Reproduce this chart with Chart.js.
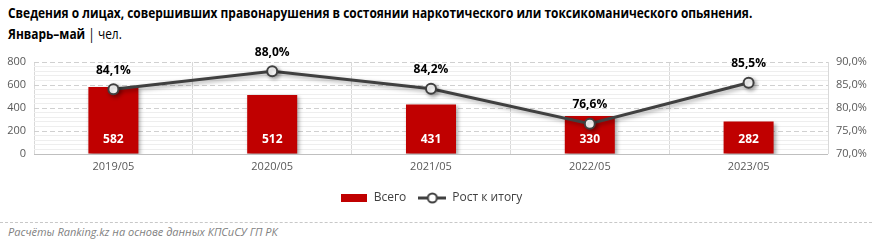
<!DOCTYPE html>
<html>
<head>
<meta charset="utf-8">
<script src="https://cdn.jsdelivr.net/npm/chart.js@4/dist/chart.umd.min.js"></script>
<style>
  html, body { margin: 0; padding: 0; background: #fff; }
  body { width: 872px; height: 242px; position: relative; overflow: hidden; font-family: "Open Sans", sans-serif; }
  .title { position: absolute; left: 8px; white-space: nowrap; font-size: 14px; color: #000; transform-origin: left center; }
  #t1 { top: 3px; font-weight: bold; }
  #t2 { top: 24px; }
  #t2 b { font-weight: bold; }
  #wrap { position: absolute; left: 0; top: 40px; width: 872px; height: 174px; }
  .sep { position: absolute; left: 0; top: 222px; width: 872px; border-top: 1px dashed #c8c8c8; }
  .src { position: absolute; left: 8px; top: 224px; font-size: 11px; font-style: italic; color: #7f7f7f; }
</style>
</head>
<body>
<div class="title" id="t1">Сведения о лицах, совершивших правонарушения в состоянии наркотического или токсикоманического опьянения.</div>
<div class="title" id="t2"><b>Январь–май</b> | чел.</div>
<div id="wrap"><canvas id="chart"></canvas></div>
<div class="sep"></div>
<div class="src">Расчёты Ranking.kz на основе данных КПСиСУ ГП РК</div>
<script>
// Data
const categories = ['2019/05', '2020/05', '2021/05', '2022/05', '2023/05'];
const totals = [582, 512, 431, 330, 282];
const shares = [84.1, 88.0, 84.2, 76.6, 85.5];
const seriesNames = ['Всего', 'Рост к итогу'];

// squeeze title to the reference width
const t1 = document.getElementById('t1');
const sc = 744 / t1.offsetWidth;
t1.style.transform = 'scaleX(' + sc + ')';
document.getElementById('t2').style.transform = 'scaleX(' + sc + ')';

const fmtPct = v => v.toFixed(1).replace('.', ',') + '%';

// legend icons
function barIcon() {
  const c = document.createElement('canvas');
  c.width = 26; c.height = 8;
  const g = c.getContext('2d');
  g.fillStyle = '#C00000';
  g.fillRect(0, 0, 26, 8);
  return c;
}
function lineIcon() {
  const c = document.createElement('canvas');
  c.width = 28; c.height = 12;
  const g = c.getContext('2d');
  g.strokeStyle = '#404040';
  g.lineWidth = 3;
  g.beginPath(); g.moveTo(0, 6); g.lineTo(28, 6); g.stroke();
  g.fillStyle = '#fff';
  g.lineWidth = 2;
  g.beginPath(); g.arc(14, 6, 4.5, 0, Math.PI * 2); g.fill(); g.stroke();
  return c;
}

const shadowPlugin = {
  id: 'shadow',
  beforeDatasetDraw(chart) {
    const ctx = chart.ctx;
    ctx.save();
    ctx.shadowColor = 'rgba(0,0,0,0.35)';
    ctx.shadowBlur = 4;
    ctx.shadowOffsetX = 2;
    ctx.shadowOffsetY = 2;
  },
  afterDatasetDraw(chart) {
    chart.ctx.restore();
  }
};

const labelPlugin = {
  id: 'labels',
  afterDatasetsDraw(chart) {
    const ctx = chart.ctx;
    ctx.save();
    ctx.textAlign = 'center';
    ctx.textBaseline = 'middle';
    const barMeta = chart.getDatasetMeta(0);
    ctx.font = 'bold 12px "Open Sans"';
    ctx.fillStyle = '#fff';
    barMeta.data.forEach((el, i) => {
      ctx.fillText(totals[i], el.x, el.base - 14);
    });
    const lineMeta = chart.getDatasetMeta(1);
    ctx.fillStyle = '#000';
    lineMeta.data.forEach((el, i) => {
      ctx.fillText(fmtPct(shares[i]), el.x, el.y - 19);
    });
    ctx.restore();
  }
};

new Chart(document.getElementById('chart'), {
  data: {
    labels: categories,
    datasets: [
      {
        type: 'bar',
        label: seriesNames[0],
        data: totals,
        backgroundColor: '#C00000',
        yAxisID: 'y',
        barPercentage: 0.63,
        categoryPercentage: 0.5,
        order: 1
      },
      {
        type: 'line',
        label: seriesNames[1],
        data: shares,
        borderColor: '#404040',
        borderWidth: 3,
        pointRadius: 5,
        pointBorderWidth: 2,
        pointBackgroundColor: '#fff',
        pointBorderColor: '#404040',
        yAxisID: 'y1',
        order: 0
      }
    ]
  },
  plugins: [shadowPlugin, labelPlugin],
  options: {
    responsive: true,
    maintainAspectRatio: false,
    animation: false,
    layout: { padding: { top: 22, left: 0, right: 0, bottom: 0 } },
    plugins: {
      tooltip: { enabled: false },
      legend: {
        position: 'bottom',
        fullSize: false,
        labels: {
          usePointStyle: true,
          pointStyleWidth: 28,
          boxHeight: 8,
          padding: 12,
          color: '#404040',
          font: { family: 'Open Sans', size: 12 },
          generateLabels: chart => chart.data.datasets.map((ds, i) => ({
            text: ds.label,
            pointStyle: i === 0 ? barIcon() : lineIcon(),
            fillStyle: 'transparent',
            strokeStyle: 'transparent',
            lineWidth: 0,
            fontColor: '#404040',
            datasetIndex: i
          }))
        }
      }
    },
    scales: {
      x: {
        grid: { color: '#d9d9d9', offset: true, drawTicks: false },
        border: { display: false },
        ticks: { color: '#595959', font: { family: 'Open Sans', size: 11 }, padding: 6 },
        afterFit: s => { s.height = 26; }
      },
      y: {
        position: 'left',
        min: 0, max: 800,
        ticks: {
          stepSize: 40,
          autoSkip: false,
          color: '#595959',
          font: { family: 'Open Sans', size: 11 },
          padding: 8,
          callback: v => (v % 200 === 0 ? v : '')
        },
        grid: {
          drawTicks: false,
          color: c => {
            const v = c.tick.value;
            if (v === 0) return '#bfbfbf';
            return v % 200 === 0 ? '#d0d0d0' : '#eeeeee';
          }
        },
        border: {
          display: false,
          dash: c => (c.tick && c.tick.value % 200 === 0 && c.tick.value !== 0 ? [5, 3] : [])
        },
        afterFit: s => { s.width = 34; }
      },
      y1: {
        position: 'right',
        min: 70, max: 90,
        ticks: {
          stepSize: 5,
          color: '#595959',
          font: { family: 'Open Sans', size: 11 },
          padding: 8,
          callback: v => fmtPct(v)
        },
        grid: { drawOnChartArea: false, drawTicks: false },
        border: { display: false },
        afterFit: s => { s.width = 44; }
      }
    }
  }
});
</script>
</body>
</html>
